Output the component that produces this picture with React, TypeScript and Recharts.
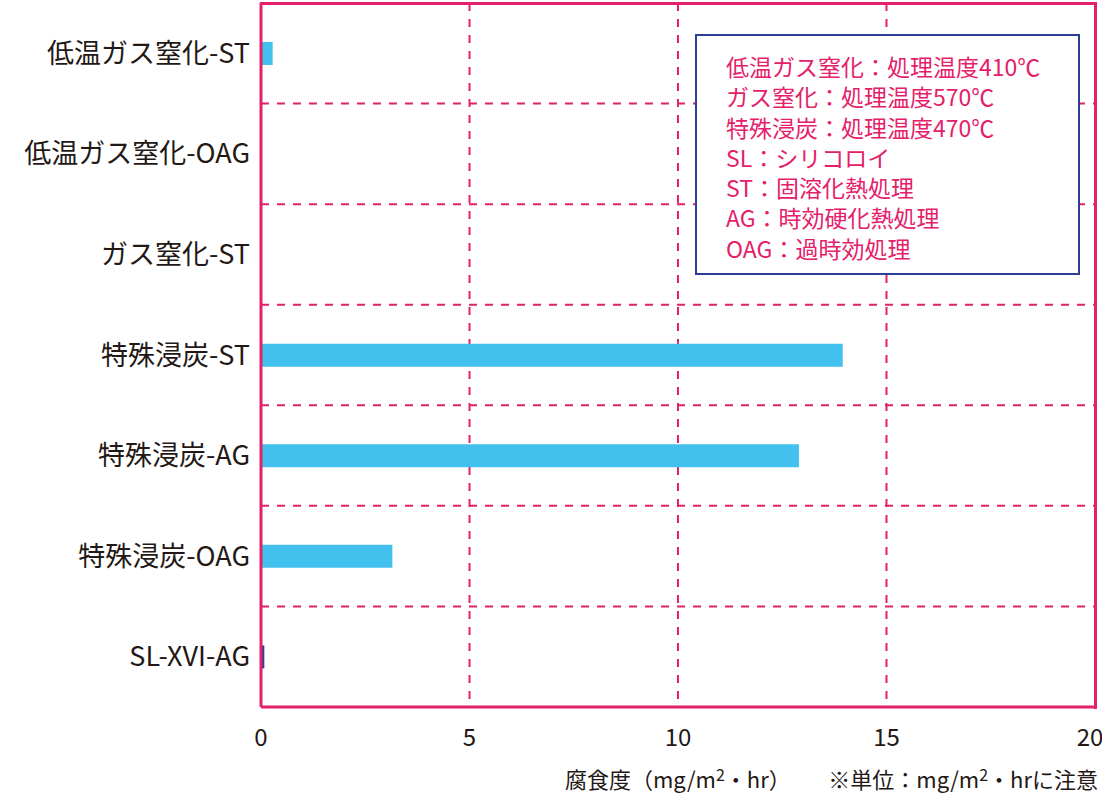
import React from 'react';
import { BarChart, Bar, XAxis, YAxis, CartesianGrid, Cell } from 'recharts';

const categories = [
  '低温ガス窒化-ST',
  '低温ガス窒化-OAG',
  'ガス窒化-ST',
  '特殊浸炭-ST',
  '特殊浸炭-AG',
  '特殊浸炭-OAG',
  'SL-XVI-AG',
];
const corrosion = [0.28, 0, 0, 13.95, 12.9, 3.15, 0.08];
const xTicks = [0, 5, 10, 15, 20];
const notes = [
  '低温ガス窒化：処理温度410℃',
  'ガス窒化：処理温度570℃',
  '特殊浸炭：処理温度470℃',
  'SL：シリコロイ',
  'ST：固溶化熱処理',
  'AG：時効硬化熱処理',
  'OAG：過時効処理',
];

const data = categories.map((name, i) => ({ name, value: corrosion[i] }));

const PINK = '#e5206a';
const CYAN = '#42c0ee';
const NAVY = '#2c3e95';
const INK = '#231815';
const FONT = '"Noto Sans CJK JP", "Noto Sans", sans-serif';

const supStyle: React.CSSProperties = { fontSize: 16, lineHeight: 0, verticalAlign: '0.45em' };

const App = () => {
  return (
    <div style={{ position: 'absolute', left: 0, top: 0, width: 1102, height: 795, fontFamily: FONT, background: '#fff' }}>
      <BarChart
        width={1102}
        height={795}
        data={data}
        layout="vertical"
        margin={{ top: 3, right: 7, left: 0, bottom: 0 }}
      >
        <CartesianGrid
          stroke={PINK}
          strokeWidth={2}
          strokeDasharray="8 8"
          horizontalCoordinatesGenerator={({ offset }: any) =>
            [1, 2, 3, 4, 5, 6].map((i) => offset.top + (i * offset.height) / categories.length)
          }
        />
        <XAxis
          type="number"
          domain={[0, 20]}
          ticks={xTicks}
          height={88}
          tickLine={false}
          tickSize={0}
          tickMargin={22}
          axisLine={{ stroke: PINK, strokeWidth: 3 }}
          tick={{ fontSize: 24, fill: INK, fontFamily: FONT }}
        />
        <YAxis
          type="category"
          dataKey="name"
          width={261}
          tickLine={false}
          tickSize={0}
          tickMargin={11}
          axisLine={{ stroke: PINK, strokeWidth: 3 }}
          tick={{ fontSize: 27, fill: INK, fontFamily: FONT }}
        />
        <Bar dataKey="value" barSize={23} isAnimationActive={false}>
          {data.map((entry, index) => (
            <Cell key={`cell-${index}`} fill={index === data.length - 1 ? NAVY : CYAN} />
          ))}
        </Bar>
      </BarChart>

      {/* plot frame (top and right edges) */}
      <div
        style={{
          position: 'absolute',
          left: 259.5,
          top: 1.5,
          width: 837,
          height: 707,
          boxSizing: 'border-box',
          borderTop: `3px solid ${PINK}`,
          borderRight: `3px solid ${PINK}`,
          pointerEvents: 'none',
        }}
      />

      <div
        style={{
          position: 'absolute',
          left: 695,
          top: 34,
          width: 385,
          height: 241,
          boxSizing: 'border-box',
          border: `2px solid ${NAVY}`,
          background: '#fff',
          padding: '15px 0 0 29px',
          color: PINK,
          fontSize: 23,
          lineHeight: '30.3px',
          whiteSpace: 'nowrap',
        }}
      >
        {notes.map((n) => (
          <div key={n} style={{ height: 30.3 }}>{n}</div>
        ))}
      </div>

      <div style={{ position: 'absolute', left: 565, top: 764, fontSize: 22, lineHeight: '28px', color: INK, whiteSpace: 'nowrap' }}>
        腐食度（mg/m<span style={supStyle}>2</span>・hr）
      </div>
      <div style={{ position: 'absolute', right: 4, top: 764, fontSize: 22, lineHeight: '28px', color: INK, whiteSpace: 'nowrap' }}>
        ※単位：mg/m<span style={supStyle}>2</span>・hrに注意
      </div>
    </div>
  );
};

export default App;
